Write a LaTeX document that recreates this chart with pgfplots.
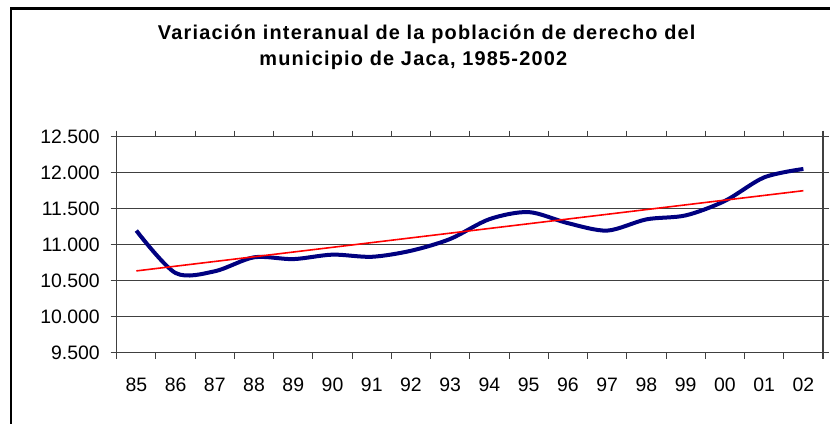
\documentclass[border=0pt]{standalone}
\usepackage{pgfplots}
\pgfplotsset{compat=1.18}
\usepackage{fontspec}
\setmainfont{Liberation Sans}
\newfontfamily\titlefont{Liberation Sans}[LetterSpace=6]
\definecolor{navyline}{RGB}{0,0,128}
\definecolor{gridc}{RGB}{64,64,64}
\begin{document}
\begin{tikzpicture}[x=1bp,y=1bp]
\useasboundingbox (0,0) rectangle (830,423);
\clip (0,0) rectangle (830,423);
\fill[white] (0,0) rectangle (830,423);
\draw[line width=2.5bp,black] (11,-30) rectangle (860,414.6);
\node[anchor=base,inner sep=0pt] at (426.7,383.5) {\fontsize{20}{24}\selectfont\titlefont\bfseries Variación interanual de la población de derecho del};
\node[anchor=base,inner sep=0pt] at (413.3,357.5) {\fontsize{20}{24}\selectfont\titlefont\bfseries municipio de Jaca, 1985-2002};
\begin{axis}[
  at={(116.7bp,70.3bp)}, anchor=south west,
  scale only axis, width=706.3bp, height=216bp,
  xmin=-0.5, xmax=17.5, ymin=9500, ymax=12500,
  scaled y ticks=false,
  xtick={0,...,17},
  xticklabels={85,86,87,88,89,90,91,92,93,94,95,96,97,98,99,00,01,02},
  ytick={9500,10000,10500,11000,11500,12000,12500},
  yticklabels={9.500,10.000,10.500,11.000,11.500,12.000,12.500},
  minor xtick={-0.5,0.5,...,17.5},
  minor ytick={9500,10000,10500,11000,11500,12000,12500},
  major tick length=0pt, minor tick length=6bp,
  tick align=outside,
  tick style={gridc, line width=1.1bp},
  minor tick style={gridc, line width=1.1bp},
  ymajorgrids, major grid style={gridc, line width=1.1bp},
  axis line style={gridc, line width=1.2bp},
  xticklabel style={font=\fontsize{19.5}{22}\selectfont, anchor=base, inner sep=0pt, yshift=-39bp},
  yticklabel style={font=\fontsize{19.5}{22}\selectfont, anchor=east, inner sep=0pt, xshift=-16.7bp},
  clip=false,
]
\addplot[navyline, line width=4bp, smooth, tension=0.5] coordinates {
(0,11196) (1,10607) (2,10631) (3,10825) (4,10800) (5,10862) (6,10832)
(7,10916) (8,11080) (9,11355) (10,11453) (11,11299) (12,11196) (13,11352)
(14,11407) (15,11608) (16,11935) (17,12052)
};
\addplot[red, line width=1.6bp] coordinates {(0,10636) (17,11750)};
\end{axis}
\end{tikzpicture}
\end{document}
